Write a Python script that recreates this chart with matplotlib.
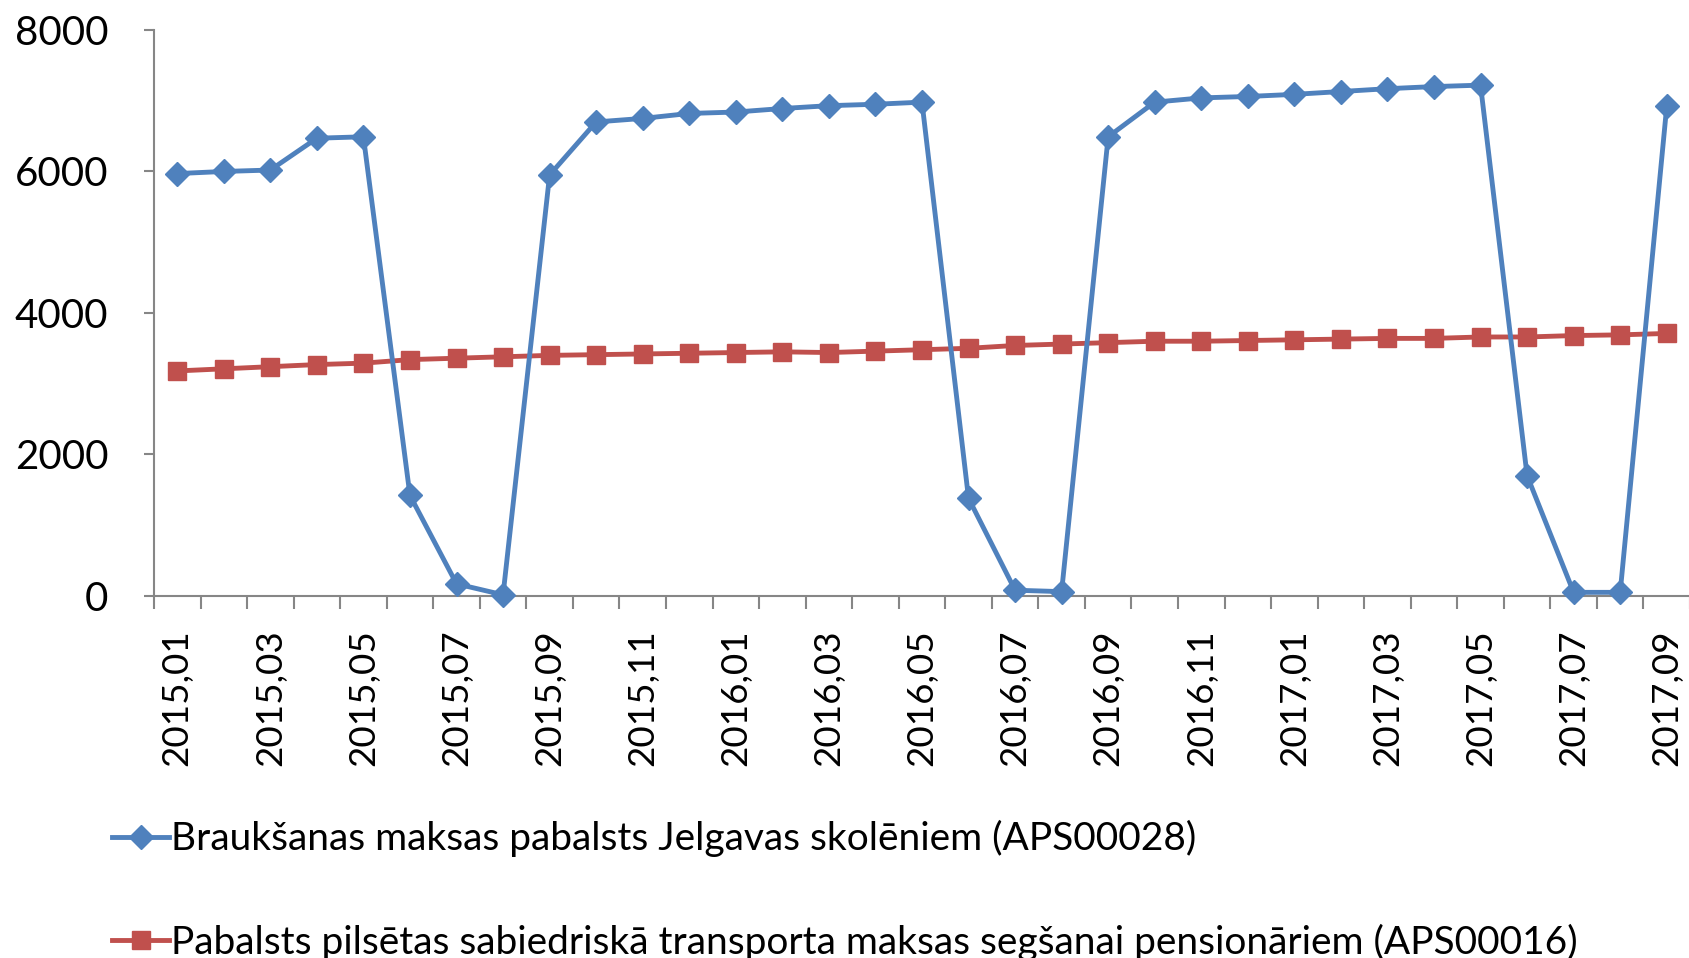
import matplotlib
matplotlib.use('Agg')
import matplotlib.pyplot as plt
import numpy as np

MONTHS = ['2015,01', '2015,02', '2015,03', '2015,04', '2015,05', '2015,06',
          '2015,07', '2015,08', '2015,09', '2015,10', '2015,11', '2015,12',
          '2016,01', '2016,02', '2016,03', '2016,04', '2016,05', '2016,06',
          '2016,07', '2016,08', '2016,09', '2016,10', '2016,11', '2016,12',
          '2017,01', '2017,02', '2017,03', '2017,04', '2017,05', '2017,06',
          '2017,07', '2017,08', '2017,09']

SCHOOL = [5970, 6000, 6020, 6470, 6490, 1420, 170, 15, 5950, 6700, 6750,
          6820, 6840, 6890, 6930, 6950, 6980, 1380, 80, 60, 6490, 6980,
          7040, 7060, 7090, 7130, 7170, 7200, 7220, 1700, 50, 50, 6920]

PENSION = [3180, 3210, 3240, 3270, 3290, 3340, 3360, 3380, 3400, 3410, 3420,
           3430, 3440, 3450, 3440, 3460, 3480, 3500, 3540, 3560, 3580, 3600,
           3600, 3610, 3620, 3630, 3640, 3640, 3660, 3660, 3680, 3690, 3710]

LEGEND_NAMES = ['Braukšanas maksas pabalsts Jelgavas skolēniem (APS00028)',
                'Pabalsts pilsētas sabiedriskā transporta maksas segšanai pensionāriem (APS00016)']

AXIS_GREY = '#868686'


def main():
    plt.rcParams['font.family'] = ['Lato', 'DejaVu Sans']
    fig = plt.figure(figsize=(16.9, 9.58), dpi=100)
    ax = fig.add_axes([0.0911, 0.378, 0.9089, 0.5907])

    x = np.arange(len(MONTHS))
    ax.plot(x, SCHOOL, color='#4F81BD', lw=3.5, marker='D', ms=12,
            label=LEGEND_NAMES[0], clip_on=False, zorder=3)
    ax.plot(x, PENSION, color='#C0504D', lw=3.5, marker='s', ms=13,
            label=LEGEND_NAMES[1], clip_on=False, zorder=2)

    ax.set_xlim(-0.5, len(MONTHS) - 0.5)
    ax.set_ylim(0, 8000)
    ax.set_yticks([0, 2000, 4000, 6000, 8000])

    ax.set_xticks(x[::2])
    ax.set_xticklabels(MONTHS[::2], rotation=90, fontsize=26.5)
    ax.set_xticks(np.arange(-0.5, len(MONTHS)), minor=True)
    ax.tick_params(axis='x', which='major', length=0, pad=24)
    ax.tick_params(axis='x', which='minor', length=9, width=1.5,
                   color=AXIS_GREY)
    ax.tick_params(axis='y', length=7, width=1.5, color=AXIS_GREY,
                   labelsize=29, pad=26)

    for side in ['top', 'right']:
        ax.spines[side].set_visible(False)
    for side in ['left', 'bottom']:
        ax.spines[side].set_color(AXIS_GREY)
        ax.spines[side].set_linewidth(1.5)

    fig.legend(loc='upper left', bbox_to_anchor=(0.055, 0.164),
               frameon=False, fontsize=28, handlelength=1.45,
               handletextpad=0.05, labelspacing=1.7, borderpad=0)

    plt.savefig('out.png', dpi=100)


if __name__ == '__main__':
    main()
